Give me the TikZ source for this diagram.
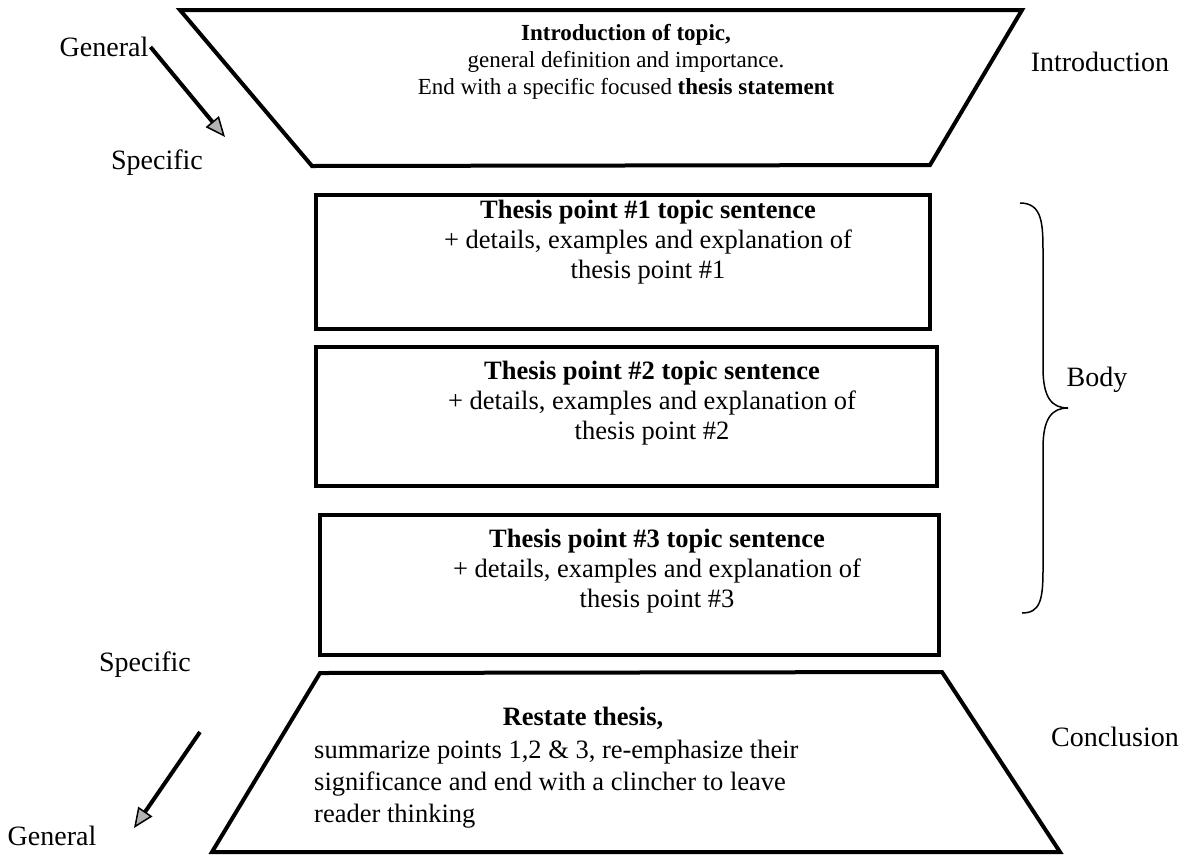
\documentclass[tikz,border=0pt]{standalone}
\usepackage{fontspec}
\setmainfont{Liberation Serif}
\usetikzlibrary{positioning, arrows.meta}
\tikzset{
funnel/.style={line width=4pt, line join=miter}, % the two trapezia
pointbox/.style={draw, line width=4pt, inner sep=0pt}, % the body paragraphs
boxtext/.style={align=center, inner sep=0pt, font=\fontsize{26.5}{30}\selectfont},
introtext/.style={align=center, inner sep=0pt, font=\fontsize{23}{27}\selectfont},
sidelabel/.style={inner sep=2pt, font=\fontsize{28}{32}\selectfont},
trend/.style={line width=4pt, -{Triangle[length=20pt, width=17pt, line width=1.5pt, fill=gray!60]}},
}
\begin{document}
\begin{tikzpicture}[x=1pt, y=-1pt]
    \useasboundingbox (0,0) rectangle (1185,855);

    % introduction funnel
    \coordinate (i1) at (180,10);
    \coordinate (i2) at (1022,10);
    \coordinate (i3) at (930,165);
    \coordinate (i4) at (312,166);
    \draw[funnel] (i1) -- (i2) -- (i3) -- (i4) -- cycle;
    \node[introtext] (intro) at (626,62) {\textbf{Introduction of topic,}\\
        general definition and importance.\\
        End with a specific focused \textbf{thesis statement}};

    % body paragraphs
    \node[pointbox, minimum width=614pt, minimum height=134pt] (p1) at (623,262) {};
    \node[pointbox, minimum width=621pt, minimum height=139pt] (p2) at (626.5,416.5) {};
    \node[pointbox, minimum width=619pt, minimum height=140pt] (p3) at (629.5,585) {};
    \node[boxtext] (p1t) at (648,242) {\textbf{Thesis point \#1 topic sentence}\\
        + details, examples and explanation of\\ thesis point \#1};
    \node[boxtext] (p2t) at (652,403) {\textbf{Thesis point \#2 topic sentence}\\
        + details, examples and explanation of\\ thesis point \#2};
    \node[boxtext] (p3t) at (657,571) {\textbf{Thesis point \#3 topic sentence}\\
        + details, examples and explanation of\\ thesis point \#3};

    % conclusion funnel
    \coordinate (c1) at (320,673);
    \coordinate (c2) at (942,672);
    \coordinate (c3) at (1060,852);
    \coordinate (c4) at (212,852);
    \draw[funnel] (c1) -- (c2) -- (c3) -- (c4) -- cycle;
    \node[boxtext] (restate) at (583,718) {\textbf{Restate thesis,}};
    \node[boxtext, align=left, anchor=north west, font=\fontsize{26.5}{32}\selectfont] (sumup) at (314,740) {summarize points 1,2 \& 3, re-emphasize their\\
        significance and end with a clincher to leave\\ reader thinking};

    % side labels
    \node[sidelabel] (gen1) at (104,47) {General};
    \node[sidelabel] (spec1) at (157,163) {Specific};
    \node[sidelabel] (spec2) at (145,665) {Specific};
    \node[sidelabel] (gen2) at (52,836) {General};
    \node[sidelabel] (introlbl) at (1100,62) {Introduction};
    \node[sidelabel] (bodylbl) at (1097,380) {Body};
    \node[sidelabel] (conclbl) at (1115,737) {Conclusion};

    \coordinate (tip1) at (225,137);
    \coordinate (tail2) at (200,732);
    \coordinate (tip2) at (134,828);
    \draw[trend] (gen1.east) -- (tip1);
    \draw[trend] (tail2) -- (tip2);

    % brace round the body
    \draw[line width=1.5pt] (1020,203) .. controls (1043,203) and (1043,225) .. (1043,255)
        -- (1043,368) .. controls (1043,398) and (1052,408) .. (1068,408)
        .. controls (1052,408) and (1043,418) .. (1043,448)
        -- (1043,570) .. controls (1043,600) and (1040,613) .. (1022,613);
\end{tikzpicture}
\end{document}
